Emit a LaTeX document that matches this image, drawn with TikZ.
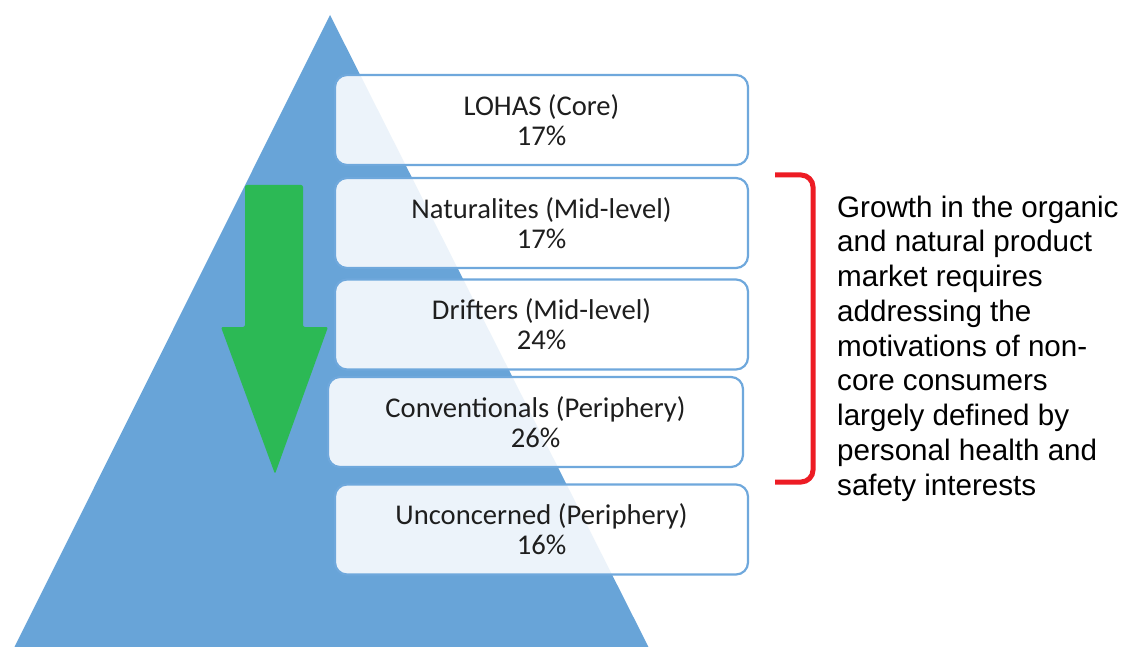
\documentclass[tikz,border=0pt]{standalone}
\usepackage{fontspec}
\newfontfamily\boxfont{Carlito}
\newfontfamily\notefont{Liberation Sans}
\definecolor{triblue}{RGB}{104,164,216}
\definecolor{boxline}{RGB}{111,168,220}
\definecolor{arrowgreen}{RGB}{44,185,85}
\definecolor{bracketred}{RGB}{237,28,36}
\definecolor{boxtext}{RGB}{30,30,30}
\begin{document}
\begin{tikzpicture}[x=1pt,y=-1pt,
  segbox/.style={draw=boxline, line width=2.2pt, fill=white, fill opacity=0.88, text opacity=1,
    rounded corners=12pt, minimum height=90pt, align=center, inner sep=0pt,
    text=boxtext, font=\boxfont\fontsize{28.6}{30}\selectfont},
  notetext/.style={align=left, anchor=base west, inner sep=0pt,
    font=\notefont\fontsize{29.6}{34.75}\selectfont}]
\useasboundingbox (0,0) rectangle (1127,647);
\fill[white] (0,0) rectangle (1127,647);
% pyramid
\fill[triblue] (330,15) -- (650,650) -- (13,650) -- cycle;
% green arrow
\fill[arrowgreen, rounded corners=2pt] (245,185) -- (303,185) -- (303,327) -- (328,327)
  -- (275,474) -- (221,327) -- (245,327) -- cycle;
% segment boxes
\node[segbox, minimum width=413pt] (lohas) at (541.5,120) {LOHAS (Core)\\17\%};
\node[segbox, minimum width=413pt] (natur) at (541.5,223) {Naturalites (Mid-level)\\17\%};
\node[segbox, minimum width=413pt] (drift) at (541.5,324.5) {Drifters (Mid-level)\\24\%};
\node[segbox, minimum width=415pt] (conv) at (535.5,422) {Conventionals (Periphery)\\26\%};
\node[segbox, minimum width=413pt] (uncon) at (541.5,529.5) {Unconcerned (Periphery)\\16\%};
% bracket
\coordinate (btop) at (775,175);
\coordinate (bbot) at (775,482);
\draw[bracketred, line width=5pt, rounded corners=12pt] (btop) -- (813,175) -- (813,482) -- (bbot);
% note (base anchor = baseline of last line)
\node[notetext] (note) at (837,495) {Growth in the organic\\and natural product\\market requires\\addressing the\\motivations of non-\\core consumers\\largely defined by\\personal health and\\safety interests};
\end{tikzpicture}
\end{document}
